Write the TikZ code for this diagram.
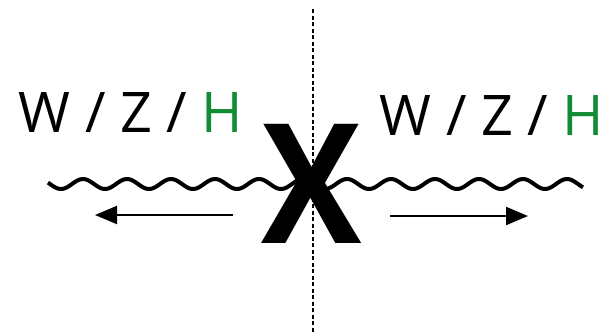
\documentclass[tikz,border=0pt]{standalone}
\usepackage{fontspec}
\setmainfont{Open Sans}
\usetikzlibrary{arrows.meta}
\definecolor{higgsgreen}{RGB}{16,140,52}
\begin{document}
\begin{tikzpicture}[x=1pt, y=-1pt,
    particles/.style={inner sep=0pt, anchor=base, font=\fontsize{56}{60}\selectfont},
    vertex/.style={inner sep=0pt, font=\fontsize{167}{170}\selectfont\bfseries},
    boson/.style={line width=4pt},
    flow/.style={-{Triangle[length=22pt,width=18pt]}, line width=2pt},
    cut/.style={line width=2.5pt, dash pattern=on 4pt off 2.5pt},
]
\useasboundingbox (0,0) rectangle (613,333);
% cut
\coordinate (cuttop) at (313,9);
\coordinate (cutbot) at (313,333);
\draw[cut] (cuttop) -- (cutbot);
% boson line
\draw[boson, domain=48:583, samples=300, smooth, variable=\t] plot (\t, {184-5*cos((\t-83)/44*360)});
% momentum flow
\coordinate (lstart) at (233,215);
\coordinate (lend) at (95,215);
\coordinate (rstart) at (390,216);
\coordinate (rend) at (528,216);
\draw[flow] (lstart) -- (lend);
\draw[flow] (rstart) -- (rend);

\node[vertex] (X) at (312,183.5) {\scalebox{0.9}[1]{X}};
\node[particles] (outL) at (131,132) {W / Z / \textcolor{higgsgreen}{H}};
\node[particles] (outR) at (492,135) {W / Z / \textcolor{higgsgreen}{H}};
\end{tikzpicture}
\end{document}
